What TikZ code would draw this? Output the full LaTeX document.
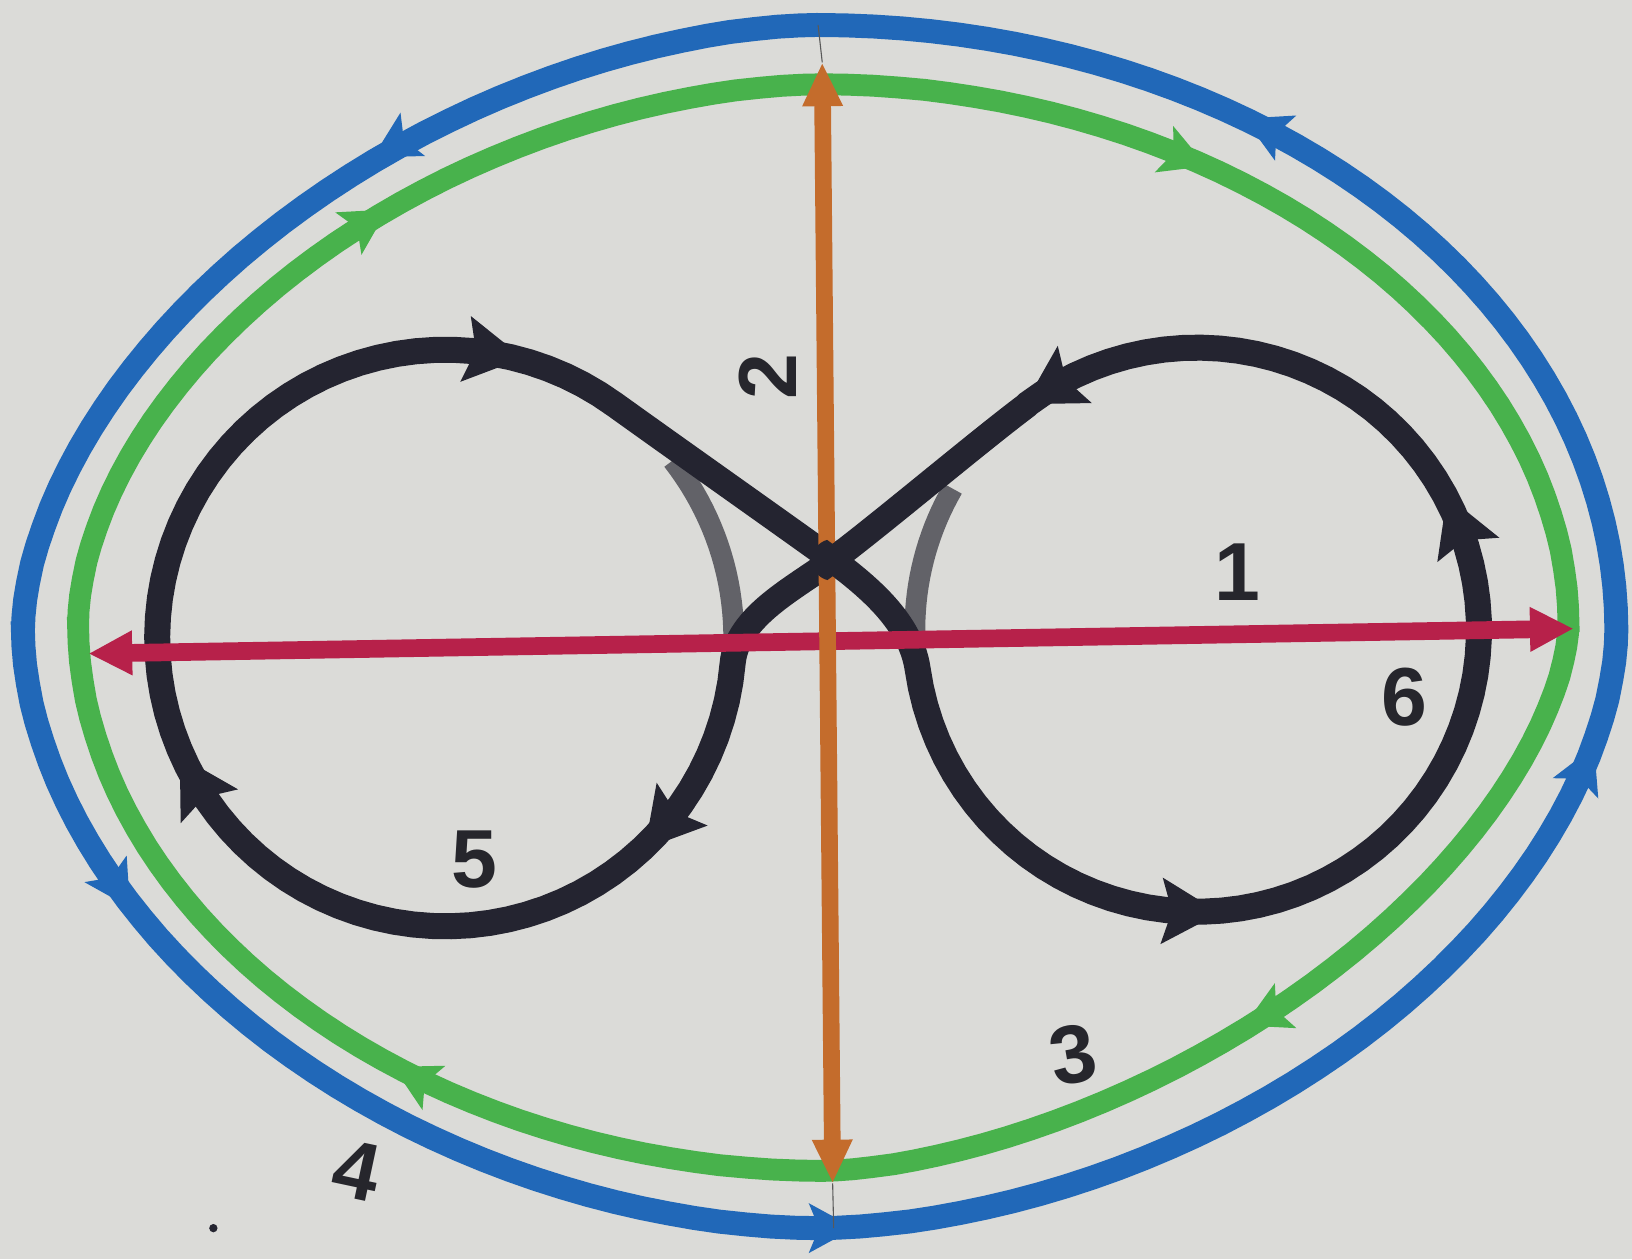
\documentclass[tikz,border=0pt]{standalone}
\usepackage{fontspec}
\setmainfont{Liberation Sans}
\usetikzlibrary{arrows.meta}
\definecolor{bgC}{RGB}{219,219,216}
\definecolor{blueC}{RGB}{33,104,184}
\definecolor{greenC}{RGB}{72,178,76}
\definecolor{blackC}{RGB}{36,36,48}
\definecolor{greyC}{RGB}{98,98,104}
\definecolor{redC}{RGB}{183,33,74}
\definecolor{orangeC}{RGB}{196,108,44}
\definecolor{labC}{RGB}{38,38,44}
\tikzset{
  bluering/.style={draw=blueC, line width=0.23cm},
  greenring/.style={draw=greenC, line width=0.21cm},
  blackline/.style={draw=blackC, line width=0.25cm, line join=round},
  greyarc/.style={draw=greyC, line width=0.2cm},
  ringhead/.pic={\fill (26,0) -- (-18,24) -- (-8,0) -- (-18,-24) -- cycle;},
  loophead/.pic={\fill (32,0) -- (-24,32) -- (-14,0) -- (-24,-32) -- cycle;},
  lab/.style={text=labC, font=\fontsize{22.5}{22.5}\selectfont\bfseries, inner sep=0pt},
  redarrow/.style={draw=redC, line width=0.17cm,
    {Triangle[length=0.42cm,width=0.4cm]}-{Triangle[length=0.42cm,width=0.4cm]}},
  orangearrow/.style={draw=orangeC, line width=0.16cm,
    {Triangle[length=0.42cm,width=0.36cm]}-{Triangle[length=0.42cm,width=0.36cm]}}
}
\begin{document}
\begin{tikzpicture}[x=0.01cm,y=-0.01cm]
\useasboundingbox (0,0) rectangle (1568,1210);
\fill[bgC] (0,0) rectangle (1568,1210);

% outer blue ring (quadrant-wise superellipse)
\draw[bluering]
  plot[domain=0:90, samples=45, variable=\t]
    ({785+768*max(cos(\t),0.0001)^1}, {605-581*max(sin(\t),0.0001)^1})
  -- plot[domain=0:90, samples=45, variable=\t]
    ({785-763*max(sin(\t),0.0001)^1.1429}, {605-581*max(cos(\t),0.0001)^1.1429})
  -- plot[domain=0:90, samples=45, variable=\t]
    ({785-763*max(cos(\t),0.0001)^1.0811}, {605+575*max(sin(\t),0.0001)^1.0811})
  -- plot[domain=0:90, samples=45, variable=\t]
    ({785+768*max(sin(\t),0.0001)^1.1111}, {605+575*max(cos(\t),0.0001)^1.1111})
  -- cycle;
% green ring
\draw[greenring]
  plot[domain=0:90, samples=45, variable=\t]
    ({790+717*max(cos(\t),0.0001)^1.0256}, {600-519*max(sin(\t),0.0001)^1.0256})
  -- plot[domain=0:90, samples=45, variable=\t]
    ({790-715*max(sin(\t),0.0001)^1.1111}, {600-519*max(cos(\t),0.0001)^1.1111})
  -- plot[domain=0:90, samples=45, variable=\t]
    ({790-715*max(cos(\t),0.0001)^1.0256}, {600+525*max(sin(\t),0.0001)^1.0256})
  -- plot[domain=0:90, samples=45, variable=\t]
    ({790+717*max(sin(\t),0.0001)^1.2121}, {600+525*max(cos(\t),0.0001)^1.2121})
  -- cycle;

% ring arrowheads: blue (counter-clockwise), green (clockwise)
\pic[color=blueC, rotate=209.6] at (381,138) {ringhead};
\pic[color=blueC, rotate=154.7] at (1219,125) {ringhead};
\pic[color=blueC, rotate=66] at (1521,741) {ringhead};
\pic[color=blueC, rotate=0] at (795,1180) {ringhead};
\pic[color=blueC, rotate=-57.8] at (111,850) {ringhead};
\pic[color=greenC, rotate=31.7] at (350,215) {ringhead};
\pic[color=greenC, rotate=-21.7] at (1135,150) {ringhead};
\pic[color=greenC, rotate=205.6] at (1219,974) {ringhead};
\pic[color=greenC, rotate=152.6] at (401,1037) {ringhead};

% figure eight
\coordinate (X) at (800,538);
\coordinate (A) at (591,389);
\coordinate (C) at (987,389);
\draw[greyarc] plot[domain=-8:38, samples=25, variable=\t]
  ({428+277*cos(\t)},{613-277*sin(\t)});
\draw[greyarc] plot[domain=150:192, samples=25, variable=\t]
  ({1150+271*cos(\t)},{605-271*sin(\t)});
\draw[blackline] plot[domain=54:355, samples=80, variable=\t]
    ({428+277*cos(\t)},{613-277*sin(\t)})
  .. controls (708,592) and (764,565) .. (X)
  .. controls (848,502) and (939,425) .. (C)
  -- plot[domain=0:299, samples=80, variable=\t]
    ({1150+271*cos(127-\t)},{605-271*sin(127-\t)})
  .. controls (875,598) and (836,565) .. (X)
  .. controls (743,497) and (648,430) .. cycle;

\pic[color=blackC, rotate=-9] at (471,339) {loophead};
\pic[color=blackC, rotate=120.5] at (189,754) {loophead};
\pic[color=blackC, rotate=230] at (640,791) {loophead};
\pic[color=blackC, rotate=210.7] at (1012,372) {loophead};
\pic[color=blackC, rotate=111.4] at (1402,506) {loophead};
\pic[color=blackC, rotate=-2] at (1140,876) {loophead};

% red horizontal double arrow
\coordinate (redL) at (85,628);
\coordinate (redR) at (1512,604);
\draw[redarrow] (redL) -- (redR);

% orange vertical double arrow
\coordinate (orT) at (790,60);
\coordinate (orB) at (800,1137);
\coordinate (pencilT) at (786,24);
\coordinate (pencilB) at (801,1180);
\draw[gray!70!black, line width=0.3pt] (pencilT) -- (orT);
\draw[gray!70!black, line width=0.3pt] (orB) -- (pencilB);
\draw[orangearrow] (orT) -- (orB);

% black crossing painted over the orange line
\begin{scope}
  \clip (X) circle[radius=0.2cm];
  \draw[blackline] (708,592) .. controls (764,565) .. (X)
    .. controls (848,502) .. (C);
  \draw[blackline] (875,598) .. controls (836,565) .. (X)
    .. controls (743,497) .. (A);
\end{scope}

% labels
\node[lab] (n1) at (1189,550) {1};
\node[lab, rotate=90] (n2) at (738,362) {2};
\node[lab, rotate=10] (n3) at (1031,1013) {3};
\node[lab, rotate=-12] (n4) at (343,1125) {4};
\node[lab] (n5) at (456,826) {5};
\node[lab] (n6) at (1349,670) {6};

\fill[blackC] (205,1180) circle[radius=0.04cm];
\end{tikzpicture}
\end{document}
